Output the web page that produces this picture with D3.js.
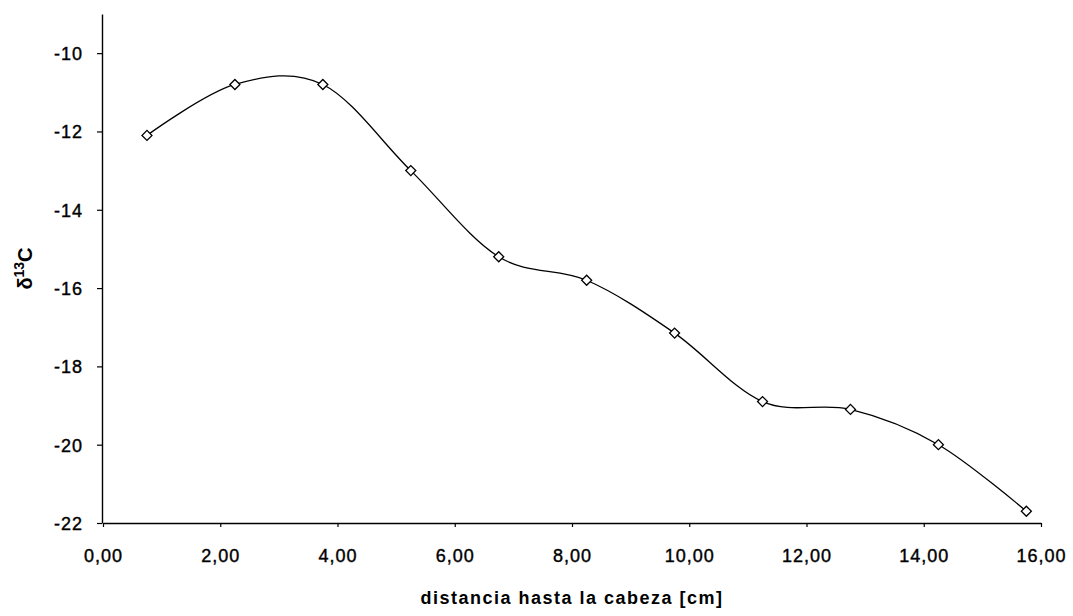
<!DOCTYPE html>
<html>
<head>
<meta charset="utf-8">
<script src="https://cdn.jsdelivr.net/npm/d3@7"></script>
<style>
  body { margin: 0; background: #fff; }
  .chart text { font-family: "Liberation Sans", Arial, sans-serif; fill: #000; }
</style>
</head>
<body>
<div class="chart"></div>
<script>
// distance from head (cm) and delta 13C values
const distances = [0.75, 2.25, 3.75, 5.25, 6.75, 8.25, 9.75, 11.25, 12.75, 14.25, 15.75];
const d13C = [-12.1, -10.8, -10.8, -13.0, -15.2, -15.8, -17.15, -18.9, -19.1, -20.0, -21.7];

const xTicks = [0, 2, 4, 6, 8, 10, 12, 14, 16];
const yTicks = [-22, -20, -18, -16, -14, -12, -10];

const xTitle = "distancia hasta la cabeza [cm]";

const width = 1073;
const height = 616;
const margin = { top: 14, right: 32, bottom: 93, left: 103 };

const svg = d3
  .select(".chart")
  .append("svg")
  .attr("width", width)
  .attr("height", height);

const x = d3
  .scaleLinear()
  .domain([0, 16])
  .range([margin.left, width - margin.right]);

const y = d3
  .scaleLinear()
  .domain([-22, -9])
  .range([height - margin.bottom, margin.top]);

// spanish style decimals, plain hyphen for negatives
const fmtX = (d) => d.toFixed(2).replace(".", ",");
const fmtY = (d) => String(d);

// x axis
const xAxis = svg
  .append("g")
  .attr("transform", `translate(0,${y(-22)})`)
  .call(
    d3.axisBottom(x).tickValues(xTicks).tickFormat(fmtX).tickSize(4).tickSizeOuter(0).tickPadding(22)
  );

// y axis
const yAxis = svg
  .append("g")
  .attr("transform", `translate(${x(0) - 1},0)`)
  .call(
    d3.axisLeft(y).tickValues(yTicks).tickFormat(fmtY).tickSize(5).tickSizeOuter(0).tickPadding(14)
  );

[xAxis, yAxis].forEach((g) => {
  g.select(".domain").attr("stroke", "#000").attr("stroke-width", 1.4);
  g.selectAll(".tick line").attr("stroke", "#000").attr("stroke-width", 1.2);
  g.selectAll(".tick text")
    .attr("font-size", 18)
    .attr("letter-spacing", 1)
    .attr("stroke", "#000")
    .attr("stroke-width", 0.4);
});
xAxis.selectAll(".tick text").attr("dy", "0.71em");
yAxis.selectAll(".tick text").attr("dy", "0.36em");

// axis titles
svg
  .append("text")
  .attr("x", (x(0) + x(16)) / 2)
  .attr("y", 604)
  .attr("text-anchor", "middle")
  .attr("font-size", 18)
  .attr("font-weight", "bold")
  .attr("letter-spacing", 1.5)
  .text(xTitle);

const yTitle = svg
  .append("text")
  .attr("transform", `translate(32,${(y(-22) + y(-9)) / 2}) rotate(-90)`)
  .attr("text-anchor", "middle")
  .attr("font-size", 20)
  .attr("font-weight", "bold");
yTitle.append("tspan").text("\u03b4");
yTitle.append("tspan").attr("font-size", 14).attr("dy", -8).text("13");
yTitle.append("tspan").attr("dy", 8).text("C");

// smoothed line
const points = distances.map((d, i) => [d, d13C[i]]);

const line = d3
  .line()
  .x((d) => x(d[0]))
  .y((d) => y(d[1]))
  .curve(d3.curveCardinal.tension(0));

svg
  .append("path")
  .datum(points)
  .attr("fill", "none")
  .attr("stroke", "#000")
  .attr("stroke-width", 1.3)
  .attr("d", line);

// diamond markers
svg
  .append("g")
  .selectAll("path")
  .data(points)
  .join("path")
  .attr("transform", (d) => `translate(${x(d[0])},${y(d[1])}) rotate(45)`)
  .attr("d", d3.symbol(d3.symbolSquare, 50))
  .attr("fill", "#fff")
  .attr("stroke", "#000")
  .attr("stroke-width", 1.3);
</script>
</body>
</html>
